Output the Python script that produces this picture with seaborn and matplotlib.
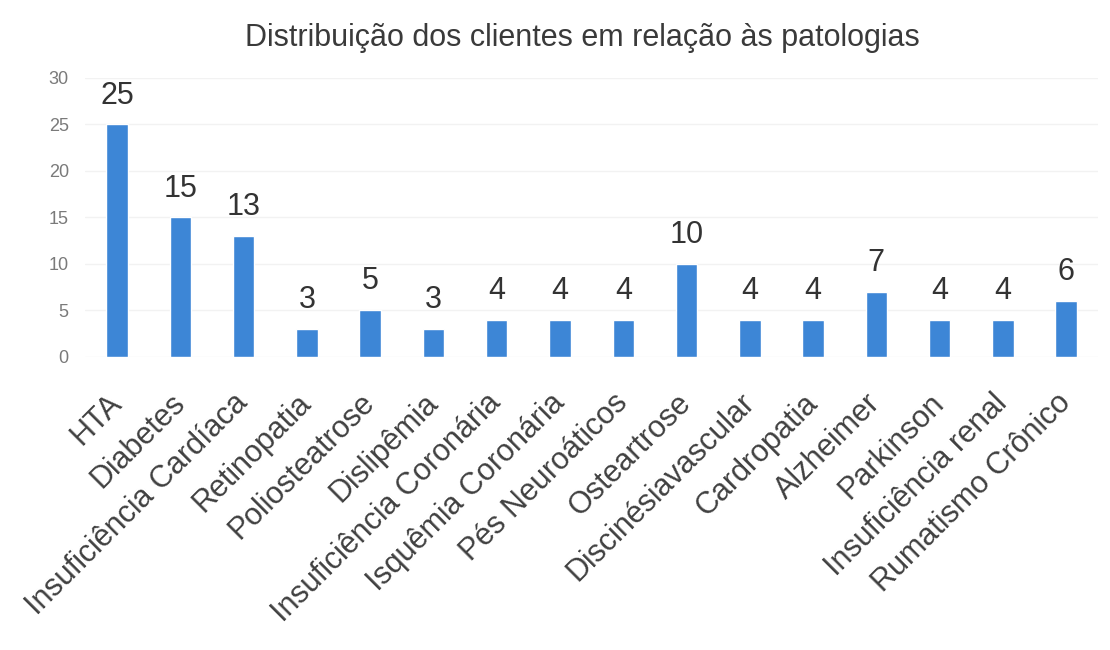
import pandas as pd
import matplotlib
matplotlib.use("Agg")
import matplotlib.pyplot as plt
import seaborn as sns

# chart data
patologias = [
    "HTA", "Diabetes", "Insuficiência Cardíaca", "Retinopatia",
    "Poliosteatrose", "Dislipêmia", "Insuficiência Coronária",
    "Isquêmia Coronária", "Pés Neuroáticos", "Osteartrose",
    "Discinésiavascular", "Cardropatia", "Alzheimer", "Parkinson",
    "Insuficiência renal", "Rumatismo Crônico",
]
clientes = [25, 15, 13, 3, 5, 3, 4, 4, 4, 10, 4, 4, 7, 4, 4, 6]
y_ticks = [0, 5, 10, 15, 20, 25, 30]
titulo = "Distribuição dos clientes em relação às patologias"

df = pd.DataFrame({"patologia": patologias, "clientes": clientes})

sns.set_theme(style="white")
plt.rcParams["font.family"] = ["Liberation Sans", "DejaVu Sans"]

fig = plt.figure(figsize=(11.1, 6.5), dpi=100)
ax = fig.add_axes([0.077, 0.451, 0.912, 0.429])

sns.barplot(data=df, x="patologia", y="clientes", color="#3d86d6",
            width=0.34, saturation=1, ax=ax)

ax.set_ylim(0, 30)
ax.set_yticks(y_ticks)
ax.set_yticklabels([str(t) for t in y_ticks], color="#7a7a7a", fontsize=13)
ax.yaxis.grid(True, color="#f2f2f2", linewidth=1)
ax.set_axisbelow(True)
for s in ax.spines.values():
    s.set_visible(False)
ax.tick_params(axis="both", length=0)
ax.tick_params(axis="y", pad=12)

ax.set_xticks(range(len(patologias)))
ax.set_xticklabels(patologias, rotation=45, ha="right", va="center",
                   rotation_mode="anchor", fontsize=22, color="#404040")
ax.tick_params(axis="x", pad=30)
ax.set_xlabel("")
ax.set_ylabel("")

ax.bar_label(ax.containers[0], labels=[str(v) for v in clientes],
             padding=10, fontsize=22, color="#333333")

fig.suptitle(titulo, x=0.525, y=0.965, fontsize=22, color="#3a3a3a")

fig.savefig("out.png", dpi=100, facecolor="white")
